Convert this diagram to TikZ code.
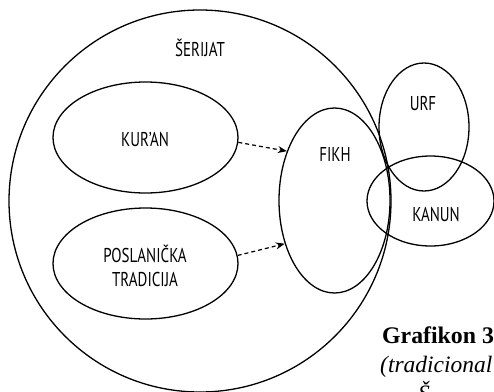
\documentclass[tikz,border=0pt]{standalone}
\usepackage{fontspec}
\setmainfont{Liberation Serif}
\newfontfamily\labelfont[FakeStretch=0.75]{PT Sans}
\usetikzlibrary{shapes.geometric,arrows.meta}
\tikzset{
  oval/.style={ellipse, draw, line width=1.3pt, inner sep=0pt},
  lbl/.style={font=\labelfont\fontsize{20}{24}\selectfont, anchor=base, inner sep=0pt},
  flow/.style={dash pattern=on 4pt off 3pt, line width=1.2pt, -{Stealth[length=9pt,width=7pt]}},
  captext/.style={anchor=base west, inner sep=0pt}
}
\begin{document}
\begin{tikzpicture}[x=1pt,y=-1pt]
\useasboundingbox (0,0) rectangle (494,391);
\clip (0,0) rectangle (494,391);
% outer circle
\node[circle, draw, line width=1.3pt, inner sep=0pt, minimum size=382pt] (serijat) at (200,201) {};
% ellipses
\node[oval, minimum width=185pt, minimum height=111pt] (kuran) at (145.5,137.5) {};
\node[oval, minimum width=185pt, minimum height=111pt] (posl) at (145.5,263.5) {};
\node[oval, minimum width=111pt, minimum height=185pt] (fikh) at (334.5,200.5) {};
\node[oval, minimum width=90pt, minimum height=128pt] (urf) at (424,127) {};
\node[oval, minimum width=127pt, minimum height=90pt] (kanun) at (430.5,201) {};
% labels
\node[lbl] (tserijat) at (200,56) {ŠERIJAT};
\node[lbl] (tkuran) at (145,146) {KUR’AN};
\node[lbl] (tposl1) at (145,262) {POSLANIČKA};
\node[lbl] (tposl2) at (145,286) {TRADICIJA};
\node[lbl] (tfikh) at (335,161) {FIKH};
\node[lbl] (turf) at (423,110) {URF};
\node[lbl] (tkanun) at (436,221) {KANUN};
% arrows
\draw[flow] (kuran.-3) -- (fikh.134);
\draw[flow] (posl.5) -- (fikh.221);
% caption (cut off by the frame, as in the reference)
\node[captext, font=\bfseries\fontsize{23.8}{29}\selectfont] (cap1) at (382,343) {Grafikon 3};
\node[captext, font=\itshape\fontsize{23.5}{29}\selectfont] (cap2) at (380,372) {(tradicional};
\node[captext, font=\itshape\fontsize{23.5}{29}\selectfont] (cap3) at (418,401) {Š};
\end{tikzpicture}
\end{document}
